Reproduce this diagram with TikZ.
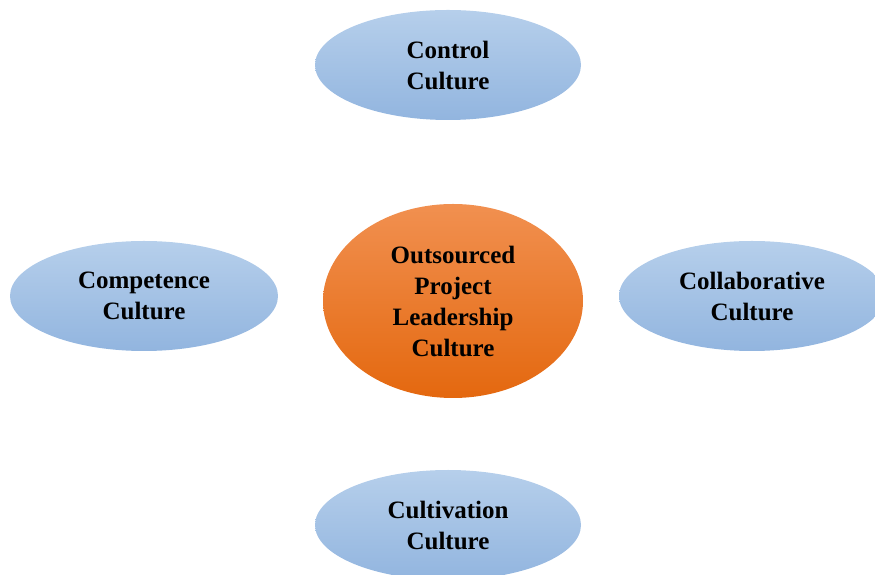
\documentclass[tikz,border=0pt]{standalone}
\usepackage{fontspec}
\setmainfont{Liberation Serif}
\usetikzlibrary{shapes.geometric}
\definecolor{bluetop}{HTML}{B6CFEB}
\definecolor{bluebot}{HTML}{92B5DF}
\definecolor{orgtop}{HTML}{F19050}
\definecolor{orgbot}{HTML}{E4680F}
\tikzset{
  culture/.style={ellipse, inner sep=0pt, minimum width=266pt, minimum height=110pt,
    top color=bluetop, bottom color=bluebot, draw=none,
    font=\fontsize{25}{31}\selectfont\bfseries, align=center},
  core/.style={ellipse, inner sep=0pt, minimum width=260pt, minimum height=194pt,
    top color=orgtop, bottom color=orgbot, draw=none,
    font=\fontsize{25}{31}\selectfont\bfseries, align=center}
}
\begin{document}
\begin{tikzpicture}[x=1pt,y=1pt]
\useasboundingbox (0,0) rectangle (875,575);
\clip (0,0) rectangle (875,575);
\node[culture] (control) at (448,510) {Control\\Culture};
\node[culture] (cultivation) at (448,50) {Cultivation\\Culture};
\node[culture, minimum width=268pt] (competence) at (144,279) {Competence\\Culture};
\node[culture] (collab) at (752,279) {Collaborative\\Culture};
\node[core] (center) at (453,274) {Outsourced\\Project\\Leadership\\Culture};
\end{tikzpicture}
\end{document}
